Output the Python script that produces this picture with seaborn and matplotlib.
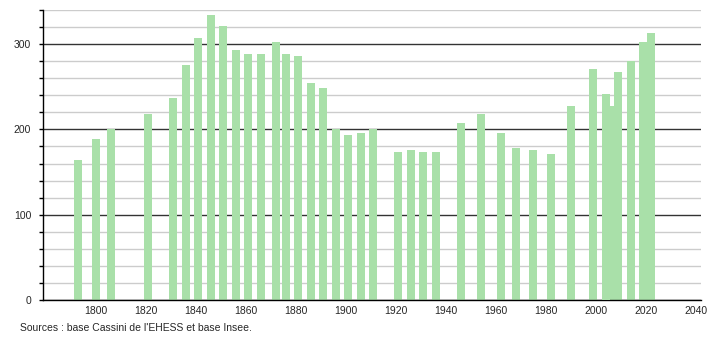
import matplotlib
matplotlib.use("Agg")
import matplotlib.pyplot as plt
import seaborn as sns
import numpy as np

years = [1793, 1800, 1806, 1821, 1831, 1836, 1841, 1846, 1851, 1856, 1861, 1866,
         1872, 1876, 1881, 1886, 1891, 1896, 1901, 1906, 1911, 1921, 1926, 1931,
         1936, 1946, 1954, 1962, 1968, 1975, 1982, 1990, 1999, 2004, 2006, 2009,
         2014, 2019, 2022]
population = [164, 189, 201, 218, 237, 275, 307, 334, 321, 293, 288, 288,
              302, 289, 286, 254, 249, 200, 193, 196, 201, 173, 176, 174,
              174, 207, 218, 196, 178, 176, 171, 227, 271, 241, 228, 267,
              280, 302, 313]
x_ticks = [1800, 1820, 1840, 1860, 1880, 1900, 1920, 1940, 1960, 1980, 2000, 2020, 2040]
y_major = [0, 100, 200, 300]
y_minor = list(range(0, 341, 20))
source = "Sources : base Cassini de l'EHESS et base Insee."

sns.set_style("white")
plt.rcParams['font.family'] = ['Liberation Sans', 'DejaVu Sans']

fig = plt.figure(figsize=(7.1, 3.4), dpi=100)
ax = fig.add_axes([43/710, 1-300/340, (701-43)/710, 290/340])

sns.barplot(x=years, y=population, native_scale=True, width=1.6,
            color="#a9e0a9", saturation=1, linewidth=0, ax=ax)

# 2004 bar drawn above 2006 bar
for p in ax.patches:
    cx = p.get_x() + p.get_width() / 2
    if abs(cx - 2004) < 0.5:
        p.set_zorder(3)

ax.set_xlim(1779, 2042)
ax.set_ylim(0, 340)
ax.set_xticks(x_ticks)
ax.set_xticklabels([str(t) for t in x_ticks])
ax.set_yticks(y_major)
ax.set_yticks(y_minor, minor=True)
ax.set_yticklabels([str(t) for t in y_major])
ax.set_xlabel("")
ax.set_ylabel("")

ax.set_axisbelow(True)
ax.grid(which='minor', axis='y', color='#cccccc', linewidth=1)
ax.grid(which='major', axis='y', color='#333333', linewidth=1)
ax.grid(which='both', axis='x', visible=False)

for s in ['top', 'right']:
    ax.spines[s].set_visible(False)
for s in ['left', 'bottom']:
    ax.spines[s].set_color('black')
    ax.spines[s].set_linewidth(1)

ax.tick_params(axis='y', which='both', direction='out', length=3, width=1,
               color='black', left=True, labelsize=7.5, pad=5.5)
ax.tick_params(axis='x', which='both', length=0, labelsize=7.5, pad=4)

fig.text(20/710, 1-328/340, source, fontsize=7.5, ha='left', va='center')

fig.savefig("out.png", dpi=100)
